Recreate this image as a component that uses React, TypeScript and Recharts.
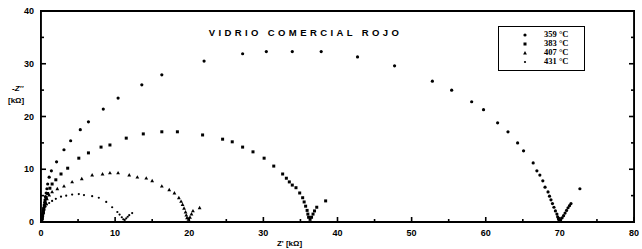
import React from 'react';
import { ScatterChart, Scatter, XAxis, YAxis } from 'recharts';

// Nyquist: Z' [kΩ] vs -Z'' [kΩ]
const temperaturas = ['359 °C', '383 °C', '407 °C', '431 °C'];

const serie359: [number, number][] = [
  [0.1, 0.2], [0.15, 0.6], [0.2, 1.0], [0.25, 1.4], [0.3, 1.8], [0.35, 2.2], [0.4, 2.7], [0.45, 3.2],
  [0.5, 3.7], [0.55, 4.2], [0.6, 4.8], [0.7, 5.5], [0.8, 6.3], [0.9, 7.2], [1.1, 8.5], [1.4, 9.7],
  [2.1, 11.4], [3.1, 13.7], [4.0, 15.4], [5.3, 17.5], [6.4, 19.0], [8.4, 21.4], [10.4, 23.5],
  [13.6, 26.0], [16.3, 27.9], [22.0, 30.5], [27.2, 31.9], [30.4, 32.3], [33.9, 32.3], [37.8, 32.3],
  [42.7, 31.3], [47.7, 29.6], [52.8, 26.7], [55.4, 25.0], [58.1, 22.8], [59.7, 21.3], [61.6, 18.8],
  [63.0, 17.1], [64.3, 15.0], [65.1, 13.5], [66.4, 11.2], [66.9, 9.7], [67.3, 8.9], [67.7, 7.8],
  [68.0, 6.6], [68.4, 5.7], [68.6, 4.9], [68.8, 4.2], [69.0, 3.5], [69.2, 2.8], [69.4, 2.1],
  [69.6, 1.5], [69.7, 1.0], [69.8, 0.6], [69.9, 0.3], [70.1, 0.4], [70.3, 0.8], [70.5, 1.2],
  [70.7, 1.7], [70.9, 2.2], [71.1, 2.7], [71.3, 3.1], [71.5, 3.5], [72.7, 6.3],
];

const serie383: [number, number][] = [
  [0.1, 0.3], [0.15, 0.8], [0.2, 1.3], [0.3, 1.9], [0.35, 2.5], [0.45, 3.1], [0.55, 3.8], [0.7, 4.6],
  [0.9, 5.4], [1.2, 6.4], [1.5, 7.2], [2.0, 8.0], [2.7, 9.1], [3.6, 10.2], [5.1, 12.1], [6.4, 13.1],
  [8.1, 14.2], [9.3, 14.6], [11.5, 15.9], [13.8, 16.7], [16.3, 17.1], [18.4, 17.1], [21.8, 16.5],
  [24.5, 15.7], [25.8, 15.2], [27.2, 14.2], [28.6, 13.3], [30.1, 12.1], [31.4, 10.6], [32.6, 9.1],
  [33.1, 8.3], [33.5, 7.6], [33.9, 7.0], [34.4, 6.5], [34.9, 5.5], [35.3, 4.6], [35.5, 3.8],
  [35.7, 3.0], [35.9, 2.2], [36.0, 1.5], [36.1, 0.9], [36.3, 0.5], [36.5, 0.9], [36.7, 1.5],
  [36.9, 2.1], [37.2, 2.8], [38.4, 4.0],
];

const serie407: [number, number][] = [
  [0.1, 0.2], [0.15, 0.7], [0.2, 1.2], [0.3, 1.8], [0.4, 2.5], [0.5, 3.1], [0.6, 3.7], [0.8, 4.4],
  [1.1, 5.1], [1.5, 5.7], [2.2, 6.3], [3.1, 6.8], [4.2, 7.6], [5.5, 8.2], [6.9, 8.9], [8.3, 9.1],
  [9.3, 9.3], [10.4, 9.3], [11.9, 8.9], [13.0, 8.5], [14.2, 8.3], [15.0, 7.8], [16.3, 6.8],
  [17.3, 6.1], [18.0, 5.5], [18.6, 4.6], [18.9, 3.9], [19.1, 3.3], [19.3, 2.6], [19.5, 1.9],
  [19.6, 1.3], [19.7, 0.8], [19.9, 0.5], [20.1, 0.9], [20.3, 1.5], [20.5, 2.1], [21.4, 2.7],
];

const serie431: [number, number][] = [
  [0.1, 0.1], [0.15, 0.5], [0.2, 0.9], [0.25, 1.4], [0.3, 1.9], [0.4, 2.4], [0.6, 2.9], [0.8, 3.3],
  [1.1, 3.6], [1.5, 4.0], [2.0, 4.4], [2.7, 4.8], [3.4, 5.0], [4.2, 5.2], [5.1, 5.3], [5.8, 5.1],
  [6.9, 4.9], [7.8, 4.6], [8.8, 3.8], [9.6, 2.8], [10.3, 1.9], [10.6, 1.4], [10.9, 0.9], [11.1, 0.5],
  [11.3, 0.4], [11.5, 0.7], [11.7, 1.0], [11.9, 1.3], [12.3, 1.7],
];

const xTicks = [0, 5, 10, 15, 20, 25, 30, 35, 40, 45, 50, 55, 60, 65, 70, 75, 80];
const yTicks = [0, 5, 10, 15, 20, 25, 30, 35, 40];

const toPts = (s: [number, number][]) => s.map(([x, y]) => ({ x, y }));

const tickFont = {
  fontFamily: '"Liberation Sans", Arial, sans-serif',
  fontSize: 9,
  fontWeight: 700,
  fill: '#000',
};

const Circle = (r: number) => (p: any) => <circle cx={p.cx} cy={p.cy} r={r} fill="#000" />;
const Square = (p: any) => <rect x={p.cx - 1.5} y={p.cy - 1.5} width={3} height={3} fill="#000" />;
const Triangle = (p: any) => (
  <path d={`M${p.cx},${p.cy - 2} L${p.cx + 1.9},${p.cy + 1.4} L${p.cx - 1.9},${p.cy + 1.4} Z`} fill="#000" />
);

const TICK_W = 1.6;

// marcas hacia dentro: cada etiqueta se dibuja junto con su marca
const XTick = (p: any) => {
  const v = p.payload.value;
  const len = v % 10 === 0 ? 5 : 3;
  return (
    <g>
      <line x1={p.x} x2={p.x} y1={222} y2={222 - len} stroke="#000" strokeWidth={TICK_W} />
      {v % 10 === 0 && <text x={p.x} y={236} textAnchor="middle" {...tickFont}>{v}</text>}
    </g>
  );
};

const YTick = (p: any) => {
  const v = p.payload.value;
  const len = v % 10 === 0 ? 5 : 3;
  return (
    <g>
      <line x1={41} x2={41 + len} y1={p.y} y2={p.y} stroke="#000" strokeWidth={TICK_W} />
      {v % 10 === 0 && <text x={34} y={p.y + 3} textAnchor="end" {...tickFont}>{v}</text>}
    </g>
  );
};

const TopTick = (p: any) => {
  const len = p.payload.value % 10 === 0 ? 5 : 3;
  return <line x1={p.x} x2={p.x} y1={11} y2={11 + len} stroke="#000" strokeWidth={TICK_W} />;
};

const RightTick = (p: any) => {
  const len = p.payload.value % 10 === 0 ? 5 : 3;
  return <line x1={634} x2={634 - len} y1={p.y} y2={p.y} stroke="#000" strokeWidth={TICK_W} />;
};

const LegendBox = () => {
  const marks = [
    <circle cx={4} cy={4} r={1.6} fill="#000" />,
    <rect x={2.5} y={2.5} width={3} height={3} fill="#000" />,
    <path d="M4,2 L5.9,5.4 L2.1,5.4 Z" fill="#000" />,
    <circle cx={4} cy={4} r={1.1} fill="#000" />,
  ];
  return (
    <div
      style={{
        position: 'absolute',
        left: 498,
        top: 26,
        width: 87,
        height: 45,
        border: '1.3px solid #000',
        boxSizing: 'border-box',
        padding: '3px 0 0 22px',
        fontFamily: '"Liberation Serif", "Times New Roman", serif',
        fontWeight: 700,
        fontSize: 8.5,
        lineHeight: '9px',
        color: '#000',
      }}
    >
      {temperaturas.map((t, i) => (
        <div key={t} style={{ display: 'flex', alignItems: 'center' }}>
          <svg width={8} height={8} style={{ marginRight: 15 }}>{marks[i]}</svg>
          <span>{t}</span>
        </div>
      ))}
    </div>
  );
};

export default function App() {
  const axisStroke = { stroke: '#000', strokeWidth: 1.8 };
  return (
    <div style={{ position: 'absolute', left: 0, top: 0, width: 642, height: 249, background: '#fff' }}>
      <ScatterChart width={642} height={249} margin={{ top: 10, right: 7, bottom: 0, left: 0 }}>
        <XAxis
          type="number"
          dataKey="x"
          domain={[0, 80]}
          ticks={xTicks}
          interval={0}
          height={27}
          tickLine={false}
          tick={XTick}
          axisLine={axisStroke}
          label={{
            value: "Z' [kΩ]",
            position: 'insideBottom',
            offset: 3,
            dx: -48,
            style: { ...tickFont, fontSize: 8 },
          }}
        />
        <XAxis
          xAxisId="top"
          orientation="top"
          type="number"
          domain={[0, 80]}
          allowDataOverflow
          ticks={xTicks}
          height={1}
          tickLine={false}
          tick={TopTick}
          axisLine={axisStroke}
        />
        <YAxis
          type="number"
          dataKey="y"
          domain={[0, 40]}
          ticks={yTicks}
          interval={0}
          width={41}
          tickLine={false}
          tick={YTick}
          axisLine={axisStroke}
          label={{
            value: "-Z''",
            position: 'insideLeft',
            offset: 12,
            dy: -28,
            style: { ...tickFont, fontSize: 8, fontStyle: 'italic' },
          }}
        />
        <YAxis
          yAxisId="right"
          orientation="right"
          type="number"
          domain={[0, 40]}
          allowDataOverflow
          ticks={yTicks}
          width={1}
          tickLine={false}
          tick={RightTick}
          axisLine={axisStroke}
          label={{
            value: '[kΩ]',
            position: 'insideLeft',
            offset: -626,
            dy: -16,
            style: { ...tickFont, fontSize: 8 },
          }}
        />
        <Scatter name={temperaturas[0]} data={toPts(serie359)} shape={Circle(1.6)} isAnimationActive={false} />
        <Scatter name={temperaturas[1]} data={toPts(serie383)} shape={Square} isAnimationActive={false} />
        <Scatter name={temperaturas[2]} data={toPts(serie407)} shape={Triangle} isAnimationActive={false} />
        <Scatter name={temperaturas[3]} data={toPts(serie431)} shape={Circle(1.1)} isAnimationActive={false} />
      </ScatterChart>
      {/* marco del gráfico (refuerzo de los bordes superior y derecho) */}
      <div
        style={{
          position: 'absolute',
          left: 40,
          top: 10,
          width: 595,
          height: 213,
          border: '1.8px solid #000',
          boxSizing: 'border-box',
          pointerEvents: 'none',
        }}
      />
      <LegendBox />
      <div
        style={{
          position: 'absolute',
          left: 0,
          width: 611,
          top: 27,
          textAlign: 'center',
          fontFamily: '"Liberation Sans", Arial, sans-serif',
          fontWeight: 700,
          fontSize: 9.5,
          letterSpacing: 3.4,
          color: '#000',
          whiteSpace: 'nowrap',
        }}
      >
        VIDRIO COMERCIAL ROJO
      </div>
    </div>
  );
}
